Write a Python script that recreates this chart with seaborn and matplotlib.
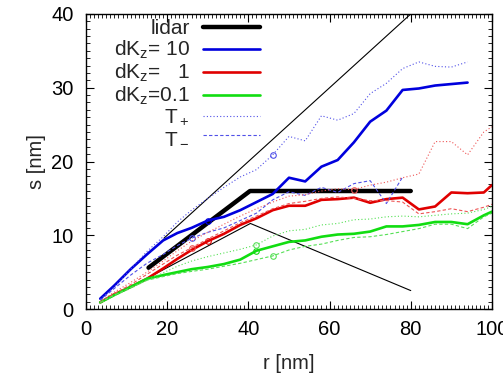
import numpy as np
import pandas as pd
import seaborn as sns
import matplotlib
matplotlib.use("Agg")
import matplotlib.pyplot as plt
from matplotlib.ticker import MultipleLocator

nan = np.nan

# grille en r [nm]
r = [3.5, 7, 11, 15, 19, 22.5, 26, 30, 34, 38, 42, 46, 50, 54, 58, 62, 66, 70, 74, 78, 82, 86, 90, 94, 98, 100]

# dKz = 10
s_10 = [1.4, 3.2, 5.4, 7.4, 9.3, 10.3, 11.0, 12.0, 12.5, 13.4, 14.5, 15.6, 17.8, 17.3, 19.3, 20.2, 22.6, 25.4, 26.9, 29.7, 29.9, 30.3, 30.5, 30.7, nan, nan]
s_10_p = [1.3, 3.0, 5.4, 7.8, 9.8, 11.8, 13.4, 15.0, 16.5, 17.9, 18.9, 20.9, 23.4, 22.8, 26.2, 25.6, 26.5, 29.2, 30.6, 32.6, 33.5, 32.9, 32.8, 33.5, nan, nan]
s_10_m = [1.2, 2.8, 4.6, 6.2, 7.4, 8.6, 9.6, 10.4, 11.0, 12.0, 13.0, 14.8, 15.9, 15.4, 16.5, 15.8, 17.0, 17.4, 14.3, 17.9, nan, nan, nan, nan, nan, nan]

# dKz = 1
s_1 = [0.9, 2.0, 3.0, 4.1, 5.5, 6.8, 8.0, 9.2, 10.2, 11.4, 12.3, 13.4, 14.0, 14.0, 14.8, 14.9, 15.1, 14.4, 14.9, 15.1, 13.5, 13.9, 15.8, 15.7, 15.8, 16.8]
s_1_p = [1.0, 2.3, 3.6, 5.0, 6.5, 7.9, 9.2, 10.4, 11.5, 12.6, 13.6, 14.5, 15.3, 15.5, 16.0, 16.3, 16.2, 16.8, 17.2, 17.8, 18.3, 22.7, 22.7, 20.9, 24.0, 24.7]
s_1_m = [0.9, 2.1, 3.3, 4.7, 6.1, 7.3, 8.3, 9.5, 10.6, 11.7, 12.6, 13.6, 14.3, 14.6, 15.0, 15.2, 15.0, 14.7, 14.7, 14.5, 12.9, 13.2, 13.6, 13.2, 13.8, 14.2]

# dKz = 0.1
s_01 = [0.9, 1.9, 3.0, 4.1, 4.6, 5.0, 5.4, 5.7, 6.1, 6.7, 7.9, 8.5, 9.1, 9.3, 9.8, 10.1, 10.2, 10.5, 11.2, 11.2, 11.4, 11.8, 11.8, 11.5, 12.7, 13.2]
s_01_p = [0.8, 1.8, 2.8, 3.9, 4.9, 5.8, 6.5, 7.1, 7.6, 8.1, 8.7, 9.9, 10.6, 10.8, 11.4, 11.6, 12.1, 12.2, 12.5, 12.6, 12.5, 12.7, 12.9, 13.0, 13.5, 13.9]
s_01_m = [0.9, 1.9, 2.9, 3.9, 4.4, 4.8, 5.1, 5.4, 5.8, 6.2, 6.7, 7.2, 8.0, 8.5, 8.8, 9.3, 9.7, 9.8, 10.1, 10.5, 10.9, 11.5, 11.5, 10.9, 12.5, 13.0]

# lidar et droites de repere
r_lidar = [15.4, 40.4, 80]
s_lidar = [5.6, 16.0, 16.0]
r_up = [19.2, 80]
s_up = [9.6, 40]
r_low = [15.5, 40.5, 80]
s_low = [4.3, 11.6, 2.5]

# positions des petits cercles (indice dans r)
mk = {"s_10": 7, "s_10_p": 11, "s_10_m": 6,
      "s_1": 7, "s_1_p": 16, "s_1_m": 6,
      "s_01": 10, "s_01_p": 10, "s_01_m": 11}

sns.set_theme(style="ticks")
plt.rcParams["font.family"] = ["Liberation Sans", "DejaVu Sans"]
plt.rcParams["mathtext.default"] = "regular"

fig = plt.figure(figsize=(5.03, 3.78), dpi=100)
ax = fig.add_axes([0.171, 0.1825, 0.807, 0.7805])

blue, red, green = "#0000dd", "#e00000", "#11dd11"
lblue, lred, lgreen = "#5050e8", "#ee5555", "#55e055"

h_lidar = sns.lineplot(x=r_lidar, y=s_lidar, color="black", lw=3.2, ax=ax, label="lidar").lines[-1]
sns.lineplot(x=r_up, y=s_up, color="black", lw=0.8, ax=ax)
sns.lineplot(x=r_low, y=s_low, color="black", lw=0.8, ax=ax)

series = [
    ("s_10", s_10, blue, "-", 1.9, "dK$_z$= 10"),
    ("s_1", s_1, red, "-", 1.9, "dK$_z$=   1"),
    ("s_01", s_01, green, "-", 1.9, "dK$_z$=0.1"),
    ("s_10_p", s_10_p, lblue, (0, (1, 2)), 0.8, "T$_+$"),
    ("s_10_m", s_10_m, lblue, (0, (3, 2)), 0.8, "T$_-$"),
    ("s_1_p", s_1_p, lred, (0, (1, 2)), 0.8, None),
    ("s_1_m", s_1_m, lred, (0, (3, 2)), 0.8, None),
    ("s_01_p", s_01_p, lgreen, (0, (1, 2)), 0.8, None),
    ("s_01_m", s_01_m, lgreen, (0, (3, 2)), 0.8, None),
]
handles = [h_lidar]
for name, s, c, ls, lw, lab in series:
    df = pd.DataFrame({"r": r, "s": s}).dropna()
    sns.lineplot(data=df, x="r", y="s", color=c, lw=lw, ax=ax, sort=False,
                 marker="o", markevery=[mk[name]], ms=4, mfc="none", mec=c, mew=0.8)
    line = ax.lines[-1]
    line.set_linestyle(ls)
    if lab:
        line.set_label(lab)
        handles.append(line)

ax.set_xlim(0, 100)
ax.set_ylim(0, 40)
ax.xaxis.set_major_locator(MultipleLocator(20))
ax.xaxis.set_minor_locator(MultipleLocator(1))
ax.yaxis.set_major_locator(MultipleLocator(10))
ax.yaxis.set_minor_locator(MultipleLocator(1))
ax.tick_params(which="both", direction="in", top=True, right=True, labelsize=14.5, colors="black")
ax.tick_params(which="major", length=6, width=0.8)
ax.tick_params(axis="x", which="major", pad=8)
ax.tick_params(axis="y", which="major", pad=9)
ax.tick_params(which="minor", length=3, width=0.6)
for sp in ax.spines.values():
    sp.set_linewidth(1.0)
    sp.set_color("black")
ax.set_xlabel("r [nm]", fontsize=14.5, labelpad=11)
ax.set_ylabel("s [nm]", fontsize=14.5, labelpad=4)

# markerfirst=False -> textes alignes a droite, traits a droite (style gnuplot)
leg = ax.legend(handles=handles, loc="upper right", bbox_to_anchor=(0.46, 1.024),
                frameon=False, markerfirst=False, fontsize=15, handlelength=2.75,
                handletextpad=0.62, labelspacing=0.03, borderaxespad=0.2)
for h in leg.legend_handles:
    h.set_marker("")

fig.savefig("out.png", dpi=100)
